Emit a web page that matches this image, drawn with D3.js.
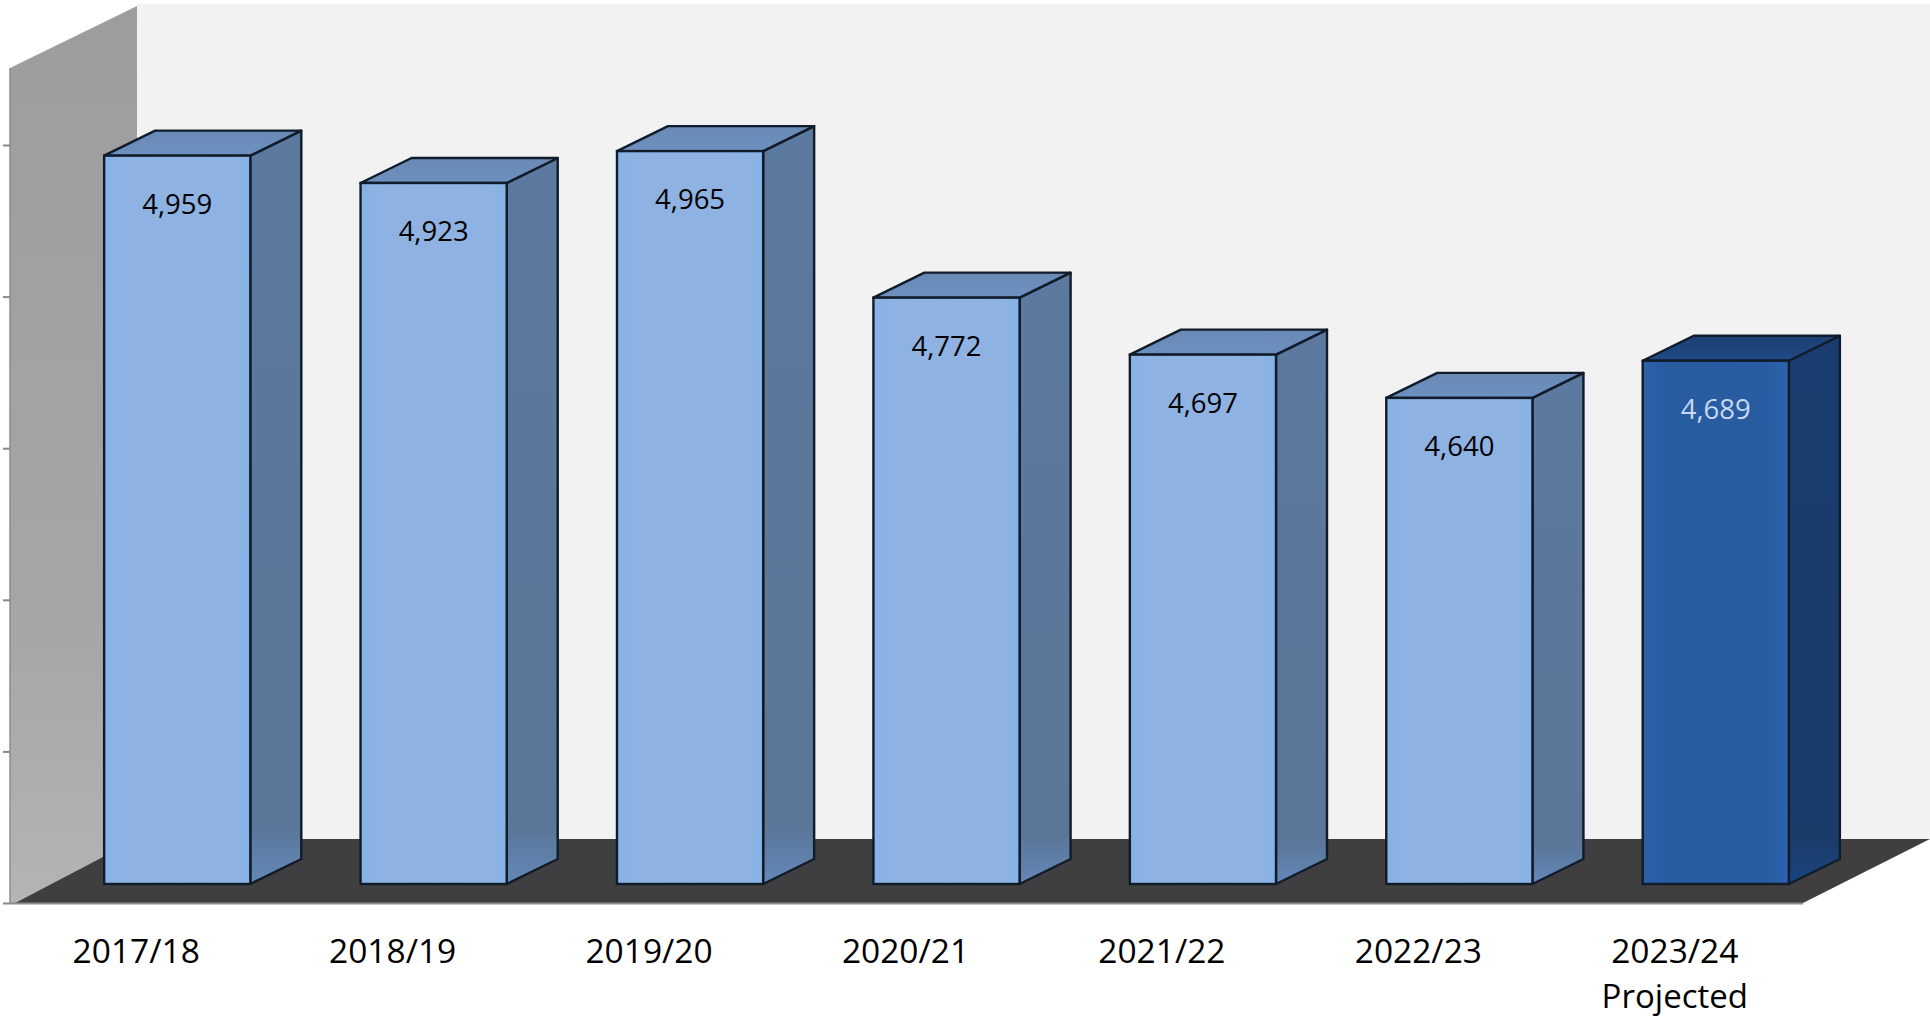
<!DOCTYPE html>
<html>
<head>
<meta charset="utf-8">
<script src="https://cdn.jsdelivr.net/npm/d3@7/dist/d3.min.js"></script>
<style>
html,body{margin:0;padding:0;background:#fff;overflow:hidden}
svg{display:block}
text{font-family:"Open Sans",sans-serif}
</style>
</head>
<body>
<svg id="chart" width="1930" height="1018"></svg>
<script>
const categories = ["2017/18","2018/19","2019/20","2020/21","2021/22","2022/23","2023/24"];
const subLabels = ["","","","","","","Projected"];
const values = [4959,4923,4965,4772,4697,4640,4689];
const projected = [false,false,false,false,false,false,true];
const axisTicks = [4000,4200,4400,4600,4800,5000];

const svg = d3.select("#chart");
const defs = svg.append("defs");

function grad(id, stops, horizontal){
  const g = defs.append("linearGradient").attr("id",id)
    .attr("x1",0).attr("y1",0).attr("x2",horizontal?1:0).attr("y2",horizontal?0:1);
  stops.forEach(s=>g.append("stop").attr("offset",s[0]).attr("stop-color",s[1]));
}
grad("wall",[[0,"#9d9d9d"],[0.7,"#a6a6a6"],[1,"#b4b4b4"]],false);
grad("frontL",[[0,"#86b3e8"],[0.12,"#8db3e3"],[0.5,"#8fb2e2"],[0.9,"#8db3e3"],[1,"#86b3e8"]],true);
grad("frontD",[[0,"#2a62ac"],[0.15,"#285c9f"],[0.85,"#295da2"],[1,"#2b63ae"]],true);
grad("sideL",[[0,"#5c7a9f"],[0.92,"#5a7698"],[1,"#6488b8"]],false);
grad("sideD",[[0,"#193d6e"],[0.92,"#1a3c69"],[1,"#1a4580"]],false);
grad("topL",[[0,"#6a8ab5"],[1,"#6c90c0"]],false);
grad("topD",[[0,"#1c3f73"],[1,"#1f4a85"]],false);

// Scales: bars live in a plane set back from the axis plane
const x = d3.scaleBand().domain(categories).range([49,1844]).paddingInner(0.43).paddingOuter(0.215);
const y = d3.scaleLinear().domain([4000,5000]).range([884,124.5]);
const yAxisScale = d3.scaleLinear().domain([4000,5000]).range([903,145]);

const depthX = 51, depthY = 25;
const line = d3.line();

// Back wall
svg.append("rect").attr("x",137).attr("y",4).attr("width",1793).attr("height",835).attr("fill","#f2f2f2");
// Left wall
svg.append("path").attr("d",line([[10,68],[137,6],[137,839],[15,903],[10,903]])+"Z").attr("fill","url(#wall)");
// Floor
svg.append("path").attr("d",line([[15,903],[137,839],[1930,839],[1803,903]])+"Z").attr("fill","#403f3f");
svg.append("line").attr("x1",10).attr("x2",1803).attr("y1",903.5).attr("y2",903.5)
  .attr("stroke","#8c8c8c").attr("stroke-width",2);
svg.append("line").attr("x1",10).attr("x2",10).attr("y1",68).attr("y2",903)
  .attr("stroke","#8c8c8c").attr("stroke-width",1.5);

// Value axis: tick marks only, the labels are absent in the source
const axisG = svg.append("g").attr("transform","translate(10,0)")
  .call(d3.axisLeft(yAxisScale).tickValues(axisTicks).tickSize(7).tickFormat(""));
axisG.select(".domain").remove();
axisG.selectAll("line").attr("stroke","#888").attr("stroke-width",2);

// Bars
const bars = svg.append("g").selectAll("g").data(categories).join("g");
const stroke = "#101c2a";
const bw = x.bandwidth();
bars.append("path") // side
  .attr("d",(c,i)=>{const l=x(c)+bw,t=y(values[i]),b=y(4000);
    return line([[l,t],[l+depthX,t-depthY],[l+depthX,b-depthY],[l,b]])+"Z";})
  .attr("fill",(c,i)=>projected[i]?"url(#sideD)":"url(#sideL)")
  .attr("stroke",stroke).attr("stroke-width",2.4).attr("stroke-linejoin","round");
bars.append("path") // top
  .attr("d",(c,i)=>{const l=x(c),t=y(values[i]);
    return line([[l,t],[l+depthX,t-depthY],[l+bw+depthX,t-depthY],[l+bw,t]])+"Z";})
  .attr("fill",(c,i)=>projected[i]?"url(#topD)":"url(#topL)")
  .attr("stroke",stroke).attr("stroke-width",2.4).attr("stroke-linejoin","round");
bars.append("rect") // front
  .attr("x",c=>x(c)).attr("y",(c,i)=>y(values[i]))
  .attr("width",bw).attr("height",(c,i)=>y(4000)-y(values[i]))
  .attr("fill",(c,i)=>projected[i]?"url(#frontD)":"url(#frontL)")
  .attr("stroke",stroke).attr("stroke-width",2.4);
bars.append("text") // value
  .attr("x",c=>x(c)+bw/2).attr("y",(c,i)=>y(values[i])+58)
  .attr("text-anchor","middle").attr("font-size",27.5)
  .attr("fill",(c,i)=>projected[i]?"#c6d9f1":"#000")
  .text((c,i)=>d3.format(",")(values[i]));

// Category labels, centred on the axis plane
const labelShift = -41;
bars.append("text")
  .attr("x",c=>x(c)+bw/2+labelShift).attr("y",963)
  .attr("text-anchor","middle").attr("font-size",33.5).attr("fill","#000")
  .text(c=>c);
bars.append("text")
  .attr("x",c=>x(c)+bw/2+labelShift).attr("y",1008)
  .attr("text-anchor","middle").attr("font-size",33).attr("fill","#000")
  .text((c,i)=>subLabels[i]);
</script>
</body>
</html>
